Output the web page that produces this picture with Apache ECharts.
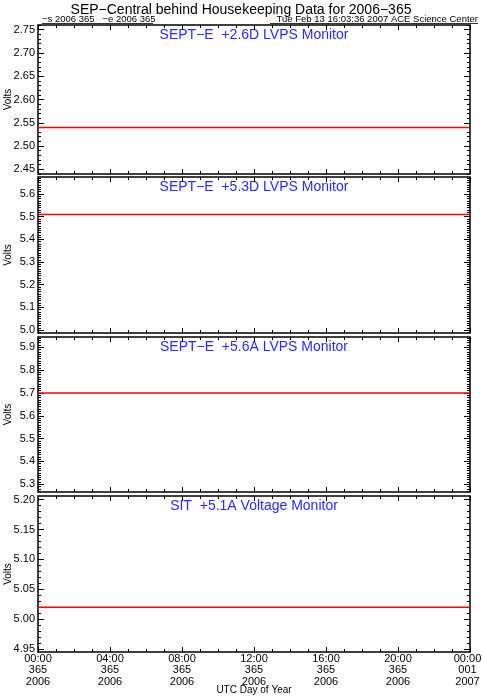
<!DOCTYPE html>
<html>
<head>
<meta charset="utf-8">
<script src="https://cdn.jsdelivr.net/npm/echarts@6/dist/echarts.min.js"></script>
<style>
  html, body { margin: 0; padding: 0; background: #ffffff; }
  #chart { width: 482px; height: 699px; }
</style>
</head>
<body>
<div id="chart"></div>
<script>
// ---- data ----
const hours = [0, 24];
const xTickLabels = ["00:00\n365\n2006", "04:00\n365\n2006", "08:00\n365\n2006", "12:00\n365\n2006", "16:00\n365\n2006", "20:00\n365\n2006", "00:00\n001\n2007"];
const panelTitles = ["SEPT\u2212E  +2.6D LVPS Monitor", "SEPT\u2212E  +5.3D LVPS Monitor", "SEPT\u2212E  +5.6A LVPS Monitor", "SIT  +5.1A Voltage Monitor"];
const panel1Volts = [2.54, 2.54];
const panel2Volts = [5.51, 5.51];
const panel3Volts = [5.70, 5.70];
const panel4Volts = [5.02, 5.02];
const p1YTicks = [2.45, 2.50, 2.55, 2.60, 2.65, 2.70, 2.75];
const p2YTicks = [5.0, 5.1, 5.2, 5.3, 5.4, 5.5, 5.6];
const p3YTicks = [5.3, 5.4, 5.5, 5.6, 5.7, 5.8, 5.9];
const p4YTicks = [4.95, 5.00, 5.05, 5.10, 5.15, 5.20];
const p1Range = [2.44, 2.76];
const p2Range = [4.987, 5.675];
const p3Range = [5.266, 5.945];
const p4Range = [4.945, 5.206];
const mainTitle = "SEP\u2212Central behind Housekeeping Data for 2006\u2212365";
const subLeft = "\u2212s 2006 365   \u2212e 2006 365";
const subRight = "Tue Feb 13 16:03:36 2007 ACE Science Center";
const xName = "UTC Day of Year";
const yName = "Volts";

// ---- layout ----
const FONT = "Liberation Sans";
const plotLeft = 38, plotWidth = 432;
const grids = [
  { top: 25, height: 149 },
  { top: 177, height: 156 },
  { top: 337, height: 155 },
  { top: 496, height: 156 }
];
const panels = [
  { volts: panel1Volts, ticks: p1YTicks, range: p1Range, dec: 2 },
  { volts: panel2Volts, ticks: p2YTicks, range: p2Range, dec: 1 },
  { volts: panel3Volts, ticks: p3YTicks, range: p3Range, dec: 1 },
  { volts: panel4Volts, ticks: p4YTicks, range: p4Range, dec: 2 }
];

function minorValues(range) {
  const out = [];
  const start = Math.ceil(range[0] * 100 - 1e-6);
  const end = Math.floor(range[1] * 100 + 1e-6);
  for (let k = start; k <= end; k++) out.push(k / 100);
  return out;
}

function xLabel(v) {
  const idx = Math.round(v / 4);
  const lines = xTickLabels[idx].split('\n');
  const style = idx === xTickLabels.length - 1 ? 'e' : 'n';
  return lines.map(s => '{' + style + '|' + s + '}').join('\n');
}

const option = {
  backgroundColor: '#ffffff',
  animation: false,
  grid: [], xAxis: [], yAxis: [], series: [], graphic: []
};

panels.forEach((p, i) => {
  const g = grids[i];
  option.grid.push({
    left: plotLeft, width: plotWidth, top: g.top, height: g.height,
    containLabel: false, outerBoundsMode: 'none',
    show: true, borderColor: '#000', borderWidth: 1.5, backgroundColor: 'transparent'
  });
  const isLast = i === panels.length - 1;
  const xBase = {
    gridIndex: i, type: 'value', min: 0, max: 24, interval: 4,
    axisLine: { show: false },
    axisTick: { show: true, inside: true, length: 5, lineStyle: { color: '#000', width: 1 } },
    minorTick: { show: true, splitNumber: 4, length: 3, lineStyle: { color: '#000', width: 1 } },
    splitLine: { show: false }, minorSplitLine: { show: false }
  };
  option.xAxis.push(Object.assign({}, xBase, {
    position: 'bottom',
    axisLabel: {
      show: isLast, color: '#000', fontFamily: FONT, fontSize: 11, lineHeight: 11.5,
      margin: 1, showMinLabel: true, showMaxLabel: true, hideOverlap: false,
      formatter: xLabel,
      rich: {
        n: { color: '#000', fontFamily: FONT, fontSize: 11, lineHeight: 11.5 },
        e: { color: '#000', fontFamily: FONT, fontSize: 11, lineHeight: 11.5, padding: [0, 5, 0, 0] }
      }
    }
  }));
  option.xAxis.push(Object.assign({}, xBase, {
    position: 'top', axisLabel: { show: false }
  }));
  const minors = minorValues(p.range);
  const yBase = {
    gridIndex: i, type: 'value', min: p.range[0], max: p.range[1],
    axisLine: { show: false }, splitLine: { show: false }
  };
  option.yAxis.push(Object.assign({}, yBase, {
    position: 'left',
    name: yName, nameLocation: 'middle', nameGap: 25, nameRotate: 90, nameMoveOverlap: false,
    nameTextStyle: { color: '#000', fontFamily: FONT, fontSize: 10 },
    axisTick: { show: true, inside: true, length: 6, customValues: p.ticks, lineStyle: { color: '#000', width: 1 } },
    axisLabel: { show: true, color: '#000', fontFamily: FONT, fontSize: 11, margin: 3, hideOverlap: false,
      customValues: p.ticks, formatter: v => Number(v).toFixed(p.dec) }
  }));
  option.yAxis.push(Object.assign({}, yBase, {
    position: 'left',
    axisTick: { show: true, inside: true, length: 3, customValues: minors, lineStyle: { color: '#000', width: 1 } },
    axisLabel: { show: false }
  }));
  option.yAxis.push(Object.assign({}, yBase, {
    position: 'right',
    axisTick: { show: true, inside: true, length: 6, customValues: p.ticks, lineStyle: { color: '#000', width: 1 } },
    axisLabel: { show: false }
  }));
  option.yAxis.push(Object.assign({}, yBase, {
    position: 'right',
    axisTick: { show: true, inside: true, length: 3, customValues: minors, lineStyle: { color: '#000', width: 1 } },
    axisLabel: { show: false }
  }));
  option.series.push({
    type: 'line', xAxisIndex: 2 * i, yAxisIndex: 4 * i,
    data: hours.map((h, k) => [h, p.volts[k]]),
    showSymbol: false, symbol: 'none', silent: true,
    lineStyle: { color: '#ff0000', width: 1.5 }
  });
  option.graphic.push({
    type: 'text', x: plotLeft + plotWidth / 2, y: g.top + 10,
    style: { text: panelTitles[i], fill: '#2a2aff', font: '14px "' + FONT + '"', textAlign: 'center', textVerticalAlign: 'middle' }
  });
});

option.graphic.push(
  { type: 'text', x: 241, y: 10, style: { text: mainTitle, fill: '#000', font: '14px "' + FONT + '"', textAlign: 'center', textVerticalAlign: 'middle' } },
  { type: 'text', x: 42, y: 19, style: { text: subLeft, fill: '#000', font: '9.5px "' + FONT + '"', textAlign: 'left', textVerticalAlign: 'middle' } },
  { type: 'text', x: 478, y: 19, style: { text: subRight, fill: '#000', font: '9.5px "' + FONT + '"', textAlign: 'right', textVerticalAlign: 'middle' } },
  { type: 'line', shape: { x1: 42, y1: 23.5, x2: 153, y2: 23.5 }, style: { stroke: '#000', lineWidth: 0.8 } },
  { type: 'line', shape: { x1: 270, y1: 23.5, x2: 478, y2: 23.5 }, style: { stroke: '#000', lineWidth: 0.8 } },
  { type: 'text', x: plotLeft + plotWidth / 2, y: 690, style: { text: xName, fill: '#000', font: '10px "' + FONT + '"', textAlign: 'center', textVerticalAlign: 'middle' } }
);

const chart = echarts.init(document.getElementById('chart'), null, { renderer: 'canvas' });
chart.setOption(option);
</script>
</body>
</html>
